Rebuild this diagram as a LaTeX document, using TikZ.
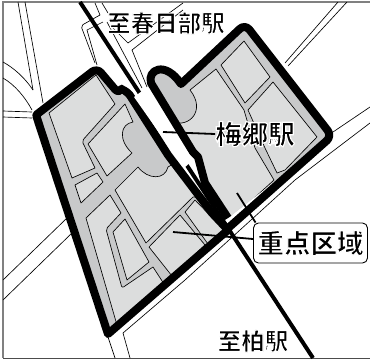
\documentclass[tikz,border=0pt]{standalone}
\usepackage{fontspec}
\setmainfont{Noto Sans CJK JP}
\definecolor{roadgray}{HTML}{C8C9CA}
\definecolor{blockgray}{HTML}{DCDDDD}
\definecolor{framegray}{HTML}{808080}
\newcommand{\halo}[1]{\special{pdf:code q 2 Tr 1 1 1 RG 1.2 w}{\bfseries #1}\special{pdf:code Q}}
\tikzset{
  road/.style={draw=black,line width=0.65pt,line join=round},
  block/.style={draw=black,fill=blockgray,line width=0.65pt,line join=round},
  area/.style={fill=roadgray},
  edge/.style={draw=black,line width=8pt,line join=round},
  rail/.style={draw=black,line width=4pt},
  leader/.style={draw=black,line width=1.8pt},
  place/.style={inner sep=0pt,font=\fontsize{23.5}{24}\selectfont,text=black},
  big/.style={inner sep=0pt,font=\fontsize{26.5}{27}\selectfont,text=black}
}
\begin{document}
\begin{tikzpicture}[x=1pt,y=-1pt]
\useasboundingbox (0,0) rectangle (370,360);
\fill[white] (0,0) rectangle (370,360);
\draw[framegray,line width=1.2pt] (370,2) -- (3,2) -- (3,358);
\draw[black!70,line width=1pt] (3,358) -- (370,358);
% roads
\draw[road] (18,2) -- (33,90);
\draw[road] (25,2) -- (43,103);
\draw[road] (3,62) .. controls (14,68) and (25,78) .. (33,90);
\draw[road] (3,78) .. controls (15,85) and (25,97) .. (32,110);
\draw[road] (3,111) -- (32,112);
\draw[road] (3,117) -- (32,118);
\draw[road] (95,3) -- (100,15) -- (84,24) [rounded corners=2pt] -- (81,26) -- (95,63);
\draw[road] (103,22) -- (87,30) -- (97,65);
\draw[road] (102,3) -- (108,13);
\draw[road] (113,28) -- (128,43) -- (183,3);
\draw[road] (107,22) -- (142,88);
\draw[road] (183,10) -- (132,50) -- (147,87);
\draw[road] (338,2) -- (285,63);
\draw[road] (347,2) -- (288,66);
\draw[road] (370,107) -- (333,132);
\draw[road] (370,123) -- (295,180) -- (185,280) -- (123,333) -- (130,358);
\draw[road] (108,337) -- (115,358);
\draw[road] (67,218) -- (3,280);
\draw[road] (72,233) -- (3,300);
\coordinate (railtop) at (80,2);
\coordinate (railbottom) at (313,358);
\draw[rail] (railtop) -- (railbottom);
% left area
\path[area] (36,115) -- (97,68) -- (119,94) -- (131,97) -- (168,155) -- (212,213) -- (228,230) -- (108,334) -- cycle;
\begin{scope}
\path[clip] (36,115) -- (97,68) -- (119,94) -- (131,97) -- (168,155) -- (212,213) -- (228,230) -- (108,334) -- cycle;
\path[block] (49,113) -- (96,75) -- (115,104) [rounded corners=2pt] -- (82,141) [sharp corners] -- (95,168) -- (72,178) -- cycle;
\path[block] (88,144) -- (125,104) -- (133,122) .. controls (120,124) and (118,140) .. (132,153) -- (107,176) -- cycle;
\path[block] (75,185) -- (97,173) -- (103,182) -- (81,203) -- cycle;
\path[block] (138,167) -- (115,190) -- (146,243) -- (193,197) -- (210,197) -- (180,160) -- (168,167) .. controls (165,180) and (148,180) .. (138,167) -- cycle;
\path[block] (86,218) -- (110,195) -- (121,213) [rounded corners=2pt] -- (106,229) -- (122,288) [sharp corners] -- (153,267) -- (166,287) -- (117,325) -- cycle;
\path[block] (113,232) -- (125,219) -- (149,262) -- (127,280) -- cycle;
\path[block] (149,247) -- (180,215) -- (205,245) -- (172,276) -- cycle;
\path[block] (185,212) -- (195,200) -- (226,232) -- (208,244) -- cycle;
\end{scope}
\path[edge] (131,97) -- (168,155) -- (212,213) -- (228,230) -- (108,334) [rounded corners=1pt] -- (36,115) [rounded corners=6pt] -- (97,68) -- (119,94) [sharp corners] .. controls (121,90) and (127,90) .. (131,97);
% right area
\path[area] (332,136) -- (245,24) -- (181,84) -- (172,72) -- (163,68) -- (152,72) -- (151,83) -- (193,152) -- (198,157) -- (205,183) -- (228,218) -- cycle;
\begin{scope}
\path[clip] (332,136) -- (245,24) -- (181,84) -- (172,72) -- (163,68) -- (152,72) -- (151,83) -- (193,152) -- (198,157) -- (205,183) -- (228,218) -- cycle;
\path[block] (221,65) -- (244,41) -- (270,77) -- (245,103) -- cycle;
\path[block] (248,110) -- (273,82) -- (317,137) -- (285,170) -- (277,173) -- (265,148) -- cycle;
\path[block] (190,90) -- (216,69) -- (244,110) -- (255,148) -- (274,180) -- (228,222) -- (190,160) -- (172,122) .. controls (190,128) and (206,110) .. (190,90) -- cycle;
\end{scope}
\path[edge] (228,218) -- (205,183) -- (198,157) -- (193,152) -- (151,83) .. controls (147,70) and (165,60) .. (181,84) [rounded corners=7pt] -- (245,24) -- (332,136) [sharp corners] -- (226,230);
% station strip
\fill[white] (134,97) -- (146,88) -- (193,160) -- (184,168) -- cycle;
% leaders and labels
\node[big] (umesato) at (255,134) {\halo{梅郷駅}};
\node[place] (kasukabe) at (166,23) {\halo{至春日部駅}};
\node[place] (kashiwa) at (253,341) {\halo{至柏駅}};
\node[big,draw=black,line width=0.9pt,rounded corners=5pt,fill=white,minimum width=114pt,minimum height=40pt] (zone) at (310.5,243) {\halo{重点区域}};
\coordinate (stationpt) at (163,132);
\coordinate (zonept) at (237,193);
\coordinate (zoneptb) at (173,232);
\draw[leader] (stationpt) -- (umesato.west);
\draw[leader] (zonept) -- ([xshift=2.5pt]zone.north west);
\draw[leader] (zoneptb) -- ([yshift=4pt]zone.west);
\end{tikzpicture}
\end{document}
